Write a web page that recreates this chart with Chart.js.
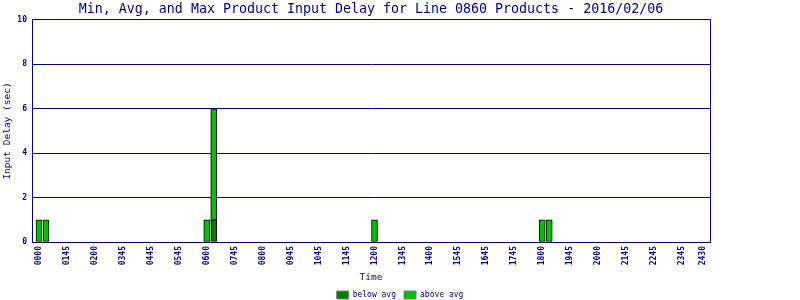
<!DOCTYPE html>
<html>
<head>
<meta charset="utf-8">
<title>Product Input Delay</title>
<script src="https://cdn.jsdelivr.net/npm/chart.js@4.4.1/dist/chart.umd.min.js"></script>
<style>
  html, body { margin: 0; padding: 0; background: #fff; }
  .chart-wrap { position: relative; width: 800px; height: 300px; }
</style>
</head>
<body>
<div class="chart-wrap"><canvas id="delayChart"></canvas></div>
<script>
// 15-minute slots of the day, slot 0 = 00:00
const slots = [0, 1, 24, 25, 48, 72, 73];
const belowAvg = [0, 0, 0, 1, 0, 0, 0];
const aboveAvg = [1, 1, 1, 5, 1, 1, 1];

const tickSlots = [0, 4, 8, 12, 16, 20, 24, 28, 32, 36, 40, 44, 48, 52, 56, 60, 64, 68, 72, 76, 80, 84, 88, 92, 95];
const tickLabels = ["0000", "0145", "0200", "0345", "0445", "0545", "0600", "0745", "0800", "0945", "1045", "1145",
  "1200", "1345", "1400", "1545", "1645", "1745", "1800", "1945", "2000", "2145", "2245", "2345", "2430"];

const NAVY = "#000080";
const MONO = "'DejaVu Sans Mono', monospace";

document.addEventListener("DOMContentLoaded", () => {
  renderDelayChart();
});

function toPoints(values) {
  // zero rows have no bar at all
  return slots.map((slot, i) => ({ x: slot, y: values[i] === 0 ? null : values[i] }));
}

function renderDelayChart() {
  new Chart(document.getElementById("delayChart"), {
    type: "bar",
    data: {
      datasets: [
        {
          label: "below avg",
          data: toPoints(belowAvg),
          backgroundColor: "#008000",
          borderColor: "#000000",
          borderWidth: 1,
          borderSkipped: false,
          barThickness: 6,
          grouped: false,
        },
        {
          label: "above avg",
          data: toPoints(aboveAvg),
          backgroundColor: "#00C000",
          borderColor: "#000000",
          borderWidth: 1,
          borderSkipped: false,
          barThickness: 6,
          grouped: false,
        },
      ],
    },
    options: {
      responsive: true,
      maintainAspectRatio: false,
      animation: false,
      layout: { padding: { left: 0, right: 0, top: 0, bottom: -9 } },
      plugins: {
        tooltip: { enabled: false },
        title: {
          display: true,
          text: "Min, Avg, and Max Product Input Delay for Line 0860 Products - 2016/02/06",
          color: NAVY,
          fullSize: false,
          font: { family: MONO, size: 13.3, weight: "normal" },
          padding: { top: 2, bottom: 2 },
        },
        legend: {
          position: "bottom",
          labels: {
            color: NAVY,
            font: { family: MONO, size: 8 },
            boxWidth: 12,
            boxHeight: 8,
            padding: 8,
            generateLabels: chart => Chart.defaults.plugins.legend.labels.generateLabels(chart)
              .map(item => ({ ...item, strokeStyle: "#808080", lineWidth: 1 })),
          },
        },
      },
      scales: {
        x: {
          type: "linear",
          offset: false,
          min: -1,
          max: 96,
          afterBuildTicks: scale => { scale.ticks = tickSlots.map(value => ({ value })); },
          afterFit: scale => { scale.height = 41; },
          ticks: {
            autoSkip: false,
            minRotation: 90,
            maxRotation: 90,
            padding: 4,
            color: NAVY,
            font: { family: MONO, size: 8, weight: "bold" },
            callback: value => tickLabels[tickSlots.indexOf(value)],
          },
          grid: { display: false, drawTicks: false, offset: false },
          border: { display: true, color: NAVY, width: 1 },
          title: {
            display: true,
            text: "Time",
            color: NAVY,
            font: { family: MONO, size: 9.5 },
            padding: { top: 0, bottom: 0 },
          },
        },
        y: {
          stacked: true,
          min: 0,
          max: 10,
          afterFit: scale => { scale.width = 32; },
          ticks: {
            stepSize: 2,
            padding: 5,
            color: NAVY,
            font: { family: MONO, size: 8, weight: "bold" },
          },
          grid: { color: NAVY, drawTicks: false },
          border: { display: true, color: NAVY, width: 1 },
          title: {
            display: true,
            text: "Input Delay (sec)",
            color: NAVY,
            font: { family: MONO, size: 9.5 },
            padding: { top: 2, bottom: 0 },
          },
        },
        frame: {
          type: "linear",
          position: "right",
          display: true,
          afterFit: scale => { scale.width = 90; },
          ticks: { display: false },
          grid: { display: false, drawTicks: false },
          border: { display: true, color: NAVY, width: 1 },
        },
      },
    },
  });
}
</script>
</body>
</html>
